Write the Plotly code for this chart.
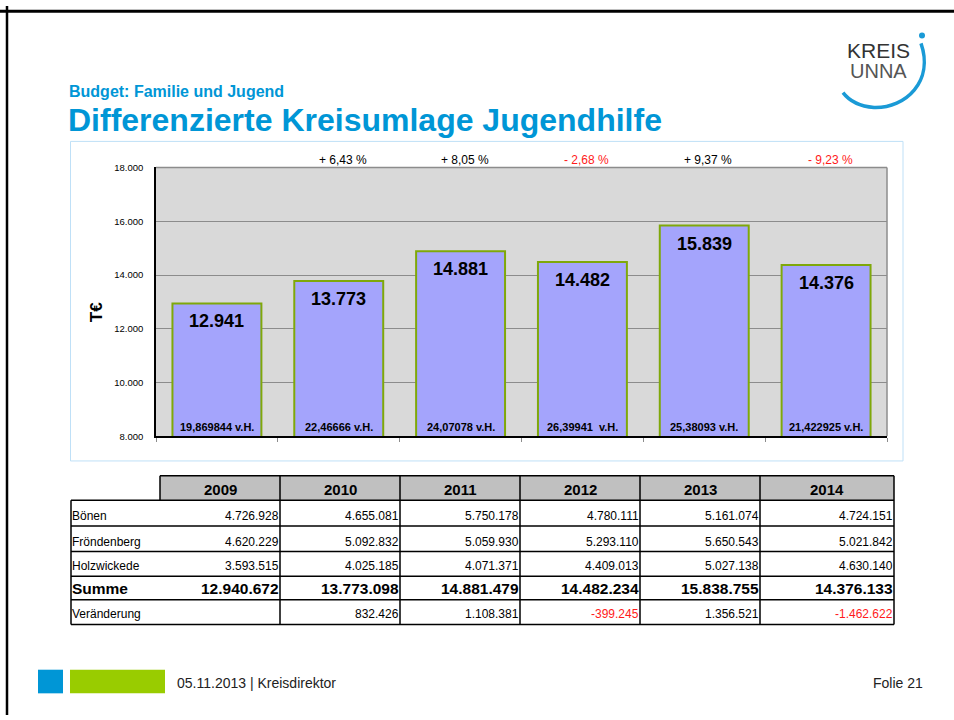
import plotly.graph_objects as go

# ---------------- data ----------------
years = ["2009", "2010", "2011", "2012", "2013", "2014"]
bar_values = [12941, 13773, 14881, 14482, 15839, 14376]  # T€
bar_labels = ["12.941", "13.773", "14.881", "14.482", "15.839", "14.376"]
share_labels = ["19,869844 v.H.", "22,46666 v.H.", "24,07078 v.H.",
                "26,39941  v.H.", "25,38093 v.H.", "21,422925 v.H."]
pct_labels = ["", "+ 6,43 %", "+ 8,05 %", "- 2,68 %", "+ 9,37 %", "- 9,23 %"]

row_names = ["Bönen", "Fröndenberg", "Holzwickede", "Summe", "Veränderung"]
boenen = ["4.726.928", "4.655.081", "5.750.178", "4.780.111", "5.161.074", "4.724.151"]
froendenberg = ["4.620.229", "5.092.832", "5.059.930", "5.293.110", "5.650.543", "5.021.842"]
holzwickede = ["3.593.515", "4.025.185", "4.071.371", "4.409.013", "5.027.138", "4.630.140"]
summe = ["12.940.672", "13.773.098", "14.881.479", "14.482.234", "15.838.755", "14.376.133"]
veraenderung = ["", "832.426", "1.108.381", "-399.245", "1.356.521", "-1.462.622"]
table_rows = [boenen, froendenberg, holzwickede, summe, veraenderung]

y_ticks = [8000, 10000, 12000, 14000, 16000, 18000]

# ---------------- helpers ----------------
W, H = 954, 720
FONT = "Liberation Sans, Arial, Helvetica, sans-serif"
BLUE = "#0096d6"
RED = "#ff1a1a"


def px(x):
    return x / W


def py(y):
    return 1 - y / H


shapes = []
annotations = []


def line(x0, y0, x1, y1, color="black", width=1, layer="above"):
    shapes.append(dict(type="line", xref="paper", yref="paper",
                       x0=px(x0), y0=py(y0), x1=px(x1), y1=py(y1),
                       line=dict(color=color, width=width), layer=layer))


def rect(x0, y0, x1, y1, fill, lc=None, lw=0, layer="above"):
    shapes.append(dict(type="rect", xref="paper", yref="paper",
                       x0=px(x0), y0=py(y0), x1=px(x1), y1=py(y1),
                       fillcolor=fill,
                       line=dict(color=lc if lc else fill, width=lw), layer=layer))


def text(x, y, s, size=12, color="black", bold=False, xanchor="left",
         yanchor="middle", family=FONT):
    annotations.append(dict(xref="paper", yref="paper", x=px(x), y=py(y),
                            text=f"<b>{s}</b>" if bold else s, showarrow=False,
                            xanchor=xanchor, yanchor=yanchor,
                            font=dict(size=size, color=color, family=family)))


# ---------------- figure ----------------
idx = list(range(len(years)))
fig = go.Figure()
fig.add_trace(go.Bar(
    x=idx, y=bar_values,
    marker=dict(color="#a4a4fc", line=dict(color="#7fa80a", width=2)),
    hoverinfo="skip",
))

# bar labels
for i, v, lab, sh, pc in zip(idx, bar_values, bar_labels, share_labels, pct_labels):
    annotations.append(dict(xref="x", yref="y", x=i, y=v, text=f"<b>{lab}</b>",
                            showarrow=False, yanchor="top", yshift=-6,
                            font=dict(size=18, color="black", family=FONT)))
    annotations.append(dict(xref="x", yref="y", x=i, y=8000, text=f"<b>{sh}</b>",
                            showarrow=False, yanchor="bottom", yshift=1,
                            font=dict(size=11, color="black", family=FONT)))
    if pc:
        annotations.append(dict(xref="x", yref="paper", x=i, y=py(156), text=pc,
                                showarrow=False, yanchor="middle", xshift=4,
                                font=dict(size=12, color=RED if pc.startswith("-") else "black",
                                          family=FONT)))

# axis title
annotations.append(dict(xref="paper", yref="paper", x=px(96), y=py(311), text="<b>T€</b>",
                        textangle=-90, showarrow=False, xanchor="center", yanchor="middle",
                        font=dict(size=17, color="black", family=FONT)))

# slide border
line(0, 5.3, 954, 5.3, "black", 3)
line(7, 0, 7, 720, "black", 2.5)

# chart panel border
rect(70.5, 137.5, 903, 462, "rgba(0,0,0,0)", "#bfe0f7", 1, layer="below")
# plot frame (top/right in gray)
line(156, 164, 887, 164, "#8c8c8c", 1.5, layer="below")
line(887, 164, 887, 437, "#8c8c8c", 1.5, layer="below")

# header texts
text(67, 87, "Budget: Familie und Jugend", 16, BLUE, True)
text(66, 116, "Differenzierte Kreisumlage Jugendhilfe", 32, BLUE, True)

# logo
text(878, 45, "KREIS", 21, "#333333", False, xanchor="center")
text(878, 66, "UNNA", 20, "#555555", False, xanchor="center")
arc = (f"M {px(921)},{py(38)} C {px(934)},{py(76)} {px(906)},{py(104)} {px(874)},{py(103)} "
       f"C {px(860)},{py(102)} {px(849)},{py(96)} {px(843)},{py(88)}")
shapes.append(dict(type="path", xref="paper", yref="paper", path=arc,
                   line=dict(color="#1a9ad6", width=3.5)))
shapes.append(dict(type="circle", xref="paper", yref="paper",
                   x0=px(919), y0=py(27), x1=px(925), y1=py(33),
                   fillcolor="#1a9ad6", line=dict(color="#1a9ad6", width=0)))

# ---------------- table ----------------
col_edges = [71, 160, 280, 400, 520, 640, 760, 894]
row_edges = [477, 502, 528, 554, 579, 603, 628]

# header cells
rect(col_edges[1], row_edges[0], col_edges[-1], row_edges[1], "#c0c0c0", layer="below")
for i, yr in enumerate(years):
    cx = (col_edges[i + 1] + col_edges[i + 2]) / 2
    text(cx, 491, yr, 15, "black", True, xanchor="center")

# grid lines
line(col_edges[1], row_edges[0], col_edges[-1], row_edges[0], "black", 1.5)
for ry in row_edges[1:]:
    line(col_edges[0], ry, col_edges[-1], ry, "black", 1.5)
line(col_edges[0], row_edges[1], col_edges[0], row_edges[-1], "black", 1.5)
line(col_edges[1], row_edges[0], col_edges[1], row_edges[1], "black", 1.5)
for cx in col_edges[2:]:
    line(cx, row_edges[0], cx, row_edges[-1], "black", 1.5)

# body
for r, (name, vals) in enumerate(zip(row_names, table_rows)):
    bottom = row_edges[r + 2]
    is_sum = name == "Summe"
    size = 15.5 if is_sum else 12
    text(col_edges[0] - 1, bottom - 1, name, size, "black", is_sum, yanchor="bottom")
    for i, v in enumerate(vals):
        if not v:
            continue
        color = RED if v.startswith("-") else "black"
        text(col_edges[i + 2] + 1, bottom - 1, v, size, color, is_sum,
             xanchor="right", yanchor="bottom")

# ---------------- footer ----------------
rect(38, 674, 63, 698, BLUE)
rect(70, 674, 165, 698, "#99cc00")
text(175, 688, "05.11.2013 | Kreisdirektor", 14, "#222222")
text(925, 688, "Folie 21", 14, "#222222", xanchor="right")

fig.update_layout(
    width=W, height=H,
    margin=dict(l=0, r=0, t=0, b=0, pad=0),
    paper_bgcolor="white",
    plot_bgcolor="#d9d9d9",
    separators=",.",
    showlegend=False,
    bargap=0.27,
    font=dict(family=FONT, color="black"),
    xaxis=dict(domain=[px(156), px(887)], range=[-0.5, len(years) - 0.5],
               tickmode="array", tickvals=[i - 0.5 for i in range(len(years) + 1)],
               showticklabels=False, ticks="outside", ticklen=4, tickcolor="#8c8c8c",
               showgrid=False, showline=True, linecolor="black", linewidth=1.5,
               zeroline=False, fixedrange=True),
    yaxis=dict(domain=[py(437), py(164)], range=[8000, 18000], tickvals=y_ticks,
               tickformat=",d", showgrid=True, gridcolor="#8c8c8c", gridwidth=1,
               showline=True, linecolor="black", linewidth=1.5, zeroline=False,
               ticks="", ticklabelstandoff=9, tickfont=dict(size=9.5, color="black"),
               fixedrange=True),
    shapes=shapes,
    annotations=annotations,
)

post = ("document.documentElement.style.margin='0px';"
        "document.documentElement.style.overflow='hidden';"
        "document.body.style.margin='0px';"
        "document.body.style.overflow='hidden';"
        "var d=document.getElementById('{plot_id}');"
        "d.parentElement.style.position='absolute';"
        "d.parentElement.style.top='0px';"
        "d.parentElement.style.left='0px';")
fig.write_html("out.html", config={"displayModeBar": False}, post_script=post)
